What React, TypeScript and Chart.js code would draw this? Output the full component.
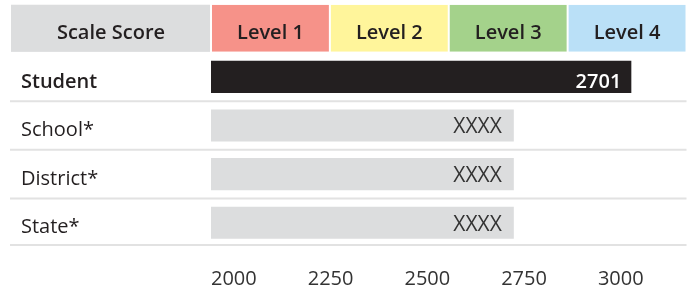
import React, { useEffect, useRef } from "react";
import { Chart, registerables } from "chart.js";

Chart.register(...registerables);

const categories = ["Scale Score", "Student", "School*", "District*", "State*"];
const scores: (number | null)[] = [null, 2701, 2505, 2505, 2505];
const scoreLabels = ["", "2701", "XXXX", "XXXX", "XXXX"];
const headerTitle = "Scale Score";
const levels = ["Level 1", "Level 2", "Level 3", "Level 4"];
const levelColors = ["#F69289", "#FFF59B", "#A4D28B", "#BAE0F7"];
const tickValues = [2000, 2250, 2500, 2750, 3000];

const FONT = "'Open Sans', 'Noto Sans', sans-serif";
const TEXT = "#231F20";
const GRAY = "#DCDDDE";

const tablePlugin = {
  id: "scoreTable",
  beforeDatasetsDraw(chart: any) {
    const ctx = chart.ctx;
    const area = chart.chartArea;
    const yScale = chart.scales.y;
    const n = categories.length;
    const h = (area.bottom - area.top) / n;
    const el = chart.getDatasetMeta(0).data[0];
    const top = el.y - el.height / 2;
    ctx.save();
    ctx.fillStyle = GRAY;
    ctx.fillRect(11, top, area.left - 1 - 11, el.height);
    ctx.strokeStyle = "#E2E2E2";
    ctx.lineWidth = 2;
    for (let i = 1; i < n; i++) {
      const yy = yScale.getPixelForValue(i) + h / 2 - (i === n - 1 ? 2 : 0);
      ctx.beginPath();
      ctx.moveTo(10, yy);
      ctx.lineTo(area.right, yy);
      ctx.stroke();
    }
    ctx.restore();
  },
  afterDatasetsDraw(chart: any) {
    const ctx = chart.ctx;
    const area = chart.chartArea;
    ctx.save();
    ctx.textBaseline = "middle";
    ctx.textAlign = "center";
    ctx.fillStyle = TEXT;
    ctx.font = `600 20px ${FONT}`;
    const h0 = chart.getDatasetMeta(0).data[0];
    ctx.fillText(headerTitle, (11 + area.left) / 2, h0.y + 5);
    levels.forEach((lv, i) => {
      const el = chart.getDatasetMeta(i).data[0];
      const cx = (el.x + el.base) / 2;
      ctx.fillText(lv, cx, el.y + 5);
    });
    const scoreMeta = chart.getDatasetMeta(levels.length);
    ctx.textAlign = "right";
    scoreMeta.data.forEach((el: any, i: number) => {
      if (scores[i] == null) return;
      if (i === 1) {
        ctx.font = `600 20px ${FONT}`;
        ctx.fillStyle = "#FFFFFF";
        ctx.fillText(scoreLabels[i], el.x - 10, el.y + 5);
      } else {
        ctx.font = `400 21px ${FONT}`;
        ctx.fillStyle = "#333333";
        ctx.fillText(scoreLabels[i], el.x - 12, el.y + 2);
      }
    });
    ctx.restore();
  },
};

export default function App() {
  const ref = useRef<HTMLCanvasElement | null>(null);
  useEffect(() => {
    if (!ref.current) return;
    const headerSets = levels.map((lv, i) => ({
      label: lv,
      data: categories.map((_, j) => (j === 0 ? [i, i + 1] : null)),
      backgroundColor: levelColors[i],
      borderColor: "#FFFFFF",
      borderWidth: { left: 1, right: 1, top: 0, bottom: 0 },
      borderSkipped: false,
      xAxisID: "x3",
      grouped: false,
      barPercentage: 0.97,
      categoryPercentage: 1,
    }));
    const chart = new Chart(ref.current, {
      type: "bar",
      data: {
        labels: categories,
        datasets: [
          ...headerSets,
          {
            label: "Scale Score",
            data: scores,
            backgroundColor: categories.map((_, j) => (j === 1 ? TEXT : GRAY)),
            borderWidth: 0,
            xAxisID: "x",
            grouped: false,
            barPercentage: 0.66,
            categoryPercentage: 1,
          },
        ] as any,
      },
      options: {
        indexAxis: "y",
        animation: false,
        responsive: false,
        events: [],
        layout: { padding: { left: 21, top: 4, right: 4.5, bottom: 0 } },
        plugins: { legend: { display: false }, tooltip: { enabled: false } },
        scales: {
          y: {
            type: "category",
            offset: true,
            grid: { display: false, drawTicks: false },
            border: { display: false },
            afterFit: (s: any) => {
              s.width = 190;
              s.paddingTop = 0;
              s.paddingBottom = 0;
            },
            ticks: {
              crossAlign: "far",
              padding: 0,
              labelOffset: 5,
              color: TEXT,
              callback: (_v: any, i: number) => (i === 0 ? "" : categories[i]),
              font: (c: any) => ({ family: FONT, size: 20, weight: c.index === 1 ? "600" : "400" }),
            },
          },
          x: { type: "linear", display: false, min: 2000, max: 2793 },
          x3: { type: "linear", display: false, min: 0, max: 4 },
          x2: {
            type: "linear",
            position: "bottom",
            min: 2000,
            max: 3229,
            grid: { display: false, drawTicks: false },
            border: { display: false },
            afterFit: (s: any) => {
              s.height = 44;
            },
            afterBuildTicks: (s: any) => {
              s.ticks = tickValues.map((v) => ({ value: v }));
            },
            ticks: {
              align: "start",
              autoSkip: false,
              maxRotation: 0,
              padding: 20,
              color: "#333333",
              font: { family: FONT, size: 20 },
              callback: (v: any) => String(v),
            },
          },
        },
      } as any,
      plugins: [tablePlugin],
    });
    if ((document as any).fonts && (document as any).fonts.ready) {
      (document as any).fonts.ready.then(() => chart.update());
    }
    return () => chart.destroy();
  }, []);
  return (
    <div style={{ position: "absolute", left: 0, top: 0, width: 691, height: 291 }}>
      <canvas ref={ref} width={691} height={291} />
    </div>
  );
}
